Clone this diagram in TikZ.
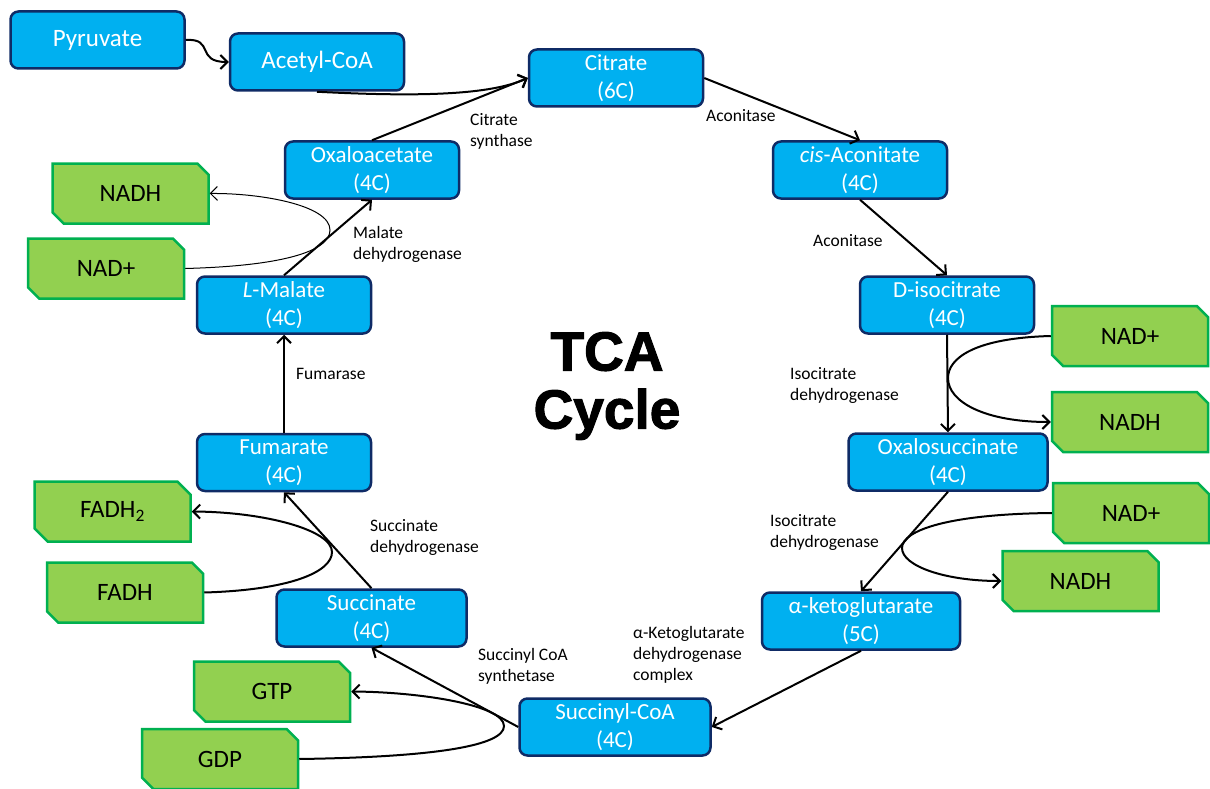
\documentclass[tikz,border=0pt]{standalone}
\usepackage{fontspec}
\setmainfont{Carlito}
\newfontfamily\tcafont[FakeBold=2]{Liberation Sans}
\usetikzlibrary{arrows.meta,shapes.misc}
\definecolor{bfill}{HTML}{00B0F0}
\definecolor{bdraw}{HTML}{0F2B66}
\definecolor{gfill}{HTML}{92D050}
\definecolor{gdraw}{HTML}{00B050}
\begin{document}
\begin{tikzpicture}[x=1pt,y=-1pt,
  bbox/.style={draw=bdraw, fill=bfill, line width=2.5pt, rounded corners=8pt, text=white,
    font=\fontsize{23}{28}\selectfont, align=center, inner sep=0pt,
    minimum width=174pt, minimum height=57pt},
  gbox/.style={chamfered rectangle, chamfered rectangle corners={north east, south west},
    chamfered rectangle xsep=10pt, draw=gdraw, fill=gfill, line width=2.5pt,
    font=\fontsize{25}{30}\selectfont, inner sep=0pt, minimum width=156pt, minimum height=60pt},
  enz/.style={font=\fontsize{17.5}{21}\selectfont, align=left, anchor=north west, inner sep=0pt},
  flow/.style={line width=2pt, -{Straight Barb[length=7pt,width=14pt]}},
  thinflow/.style={line width=1pt, -{Straight Barb[length=7pt,width=14pt]}}]
\useasboundingbox (0,0) rectangle (1210,789);

% blue metabolite boxes
\node[bbox, font=\fontsize{25}{30}\selectfont] (pyr) at (97.5,40) {Pyruvate};
\node[bbox, font=\fontsize{25}{30}\selectfont] (acet) at (317,62) {Acetyl-CoA};
\node[bbox] (cit) at (616,78) {Citrate\\(6C)};
\node[bbox] (cis) at (860,170) {\textit{cis}-Aconitate\\(4C)};
\node[bbox] (iso) at (947,305) {D-isocitrate\\(4C)};
\node[bbox, minimum width=199pt] (oxs) at (948,462) {Oxalosuccinate\\(4C)};
\node[bbox, minimum width=198pt] (akg) at (861,621) {α-ketoglutarate\\(5C)};
\node[bbox, minimum width=191pt] (scoa) at (615,727) {Succinyl-CoA\\(4C)};
\node[bbox, minimum width=190pt] (suc) at (371.5,618) {Succinate\\(4C)};
\node[bbox] (fum) at (284,462.5) {Fumarate\\(4C)};
\node[bbox] (mal) at (284,305) {\textit{L}-Malate\\(4C)};
\node[bbox] (oaa) at (372,170) {Oxaloacetate\\(4C)};

% green cofactor boxes
\node[gbox] (nadh1) at (130.5,193.5) {NADH};
\node[gbox] (nad1) at (106,268.5) {NAD+};
\node[gbox] (nad2) at (1130,336) {NAD+};
\node[gbox] (nadh2) at (1130,422) {NADH};
\node[gbox] (nad3) at (1131,513) {NAD+};
\node[gbox] (nadh3) at (1080.5,581) {NADH};
\node[gbox] (fadh2) at (112.5,511.5) {FADH\textsubscript{2}};
\node[gbox] (fadh) at (125,592.5) {FADH};
\node[gbox] (gtp) at (272,691.5) {GTP};
\node[gbox] (gdp) at (220,759) {GDP};

% title
\node[font=\tcafont\bfseries\fontsize{55}{58}\selectfont, align=center, inner sep=0pt] (tca) at (607,386) {TCA\\Cycle};

% enzyme labels
\node[enz] (e1) at (470,113) {Citrate\\synthase};
\node[enz] (e2) at (706,109) {Aconitase};
\node[enz] (e3) at (813,234) {Aconitase};
\node[enz] (e4) at (790,367) {Isocitrate\\dehydrogenase};
\node[enz] (e5) at (770,514) {Isocitrate\\dehydrogenase};
\node[enz] (e6) at (633,626) {α-Ketoglutarate\\dehydrogenase\\complex};
\node[enz] (e7) at (478,648) {Succinyl CoA\\synthetase};
\node[enz] (e8) at (370,519) {Succinate\\dehydrogenase};
\node[enz] (e9) at (296,368) {Fumarase};
\node[enz] (e10) at (353,226) {Malate\\dehydrogenase};

% main cycle
\draw[flow] (pyr.east) .. controls (215,38) and (195,62) .. (acet.west);
\draw[flow] (acet.south) .. controls (420,97) and (490,95) .. (cit.west);
\draw[flow] (oaa.north) -- (cit.west);
\draw[flow] (cit.east) -- (cis.north);
\draw[flow] (cis.south) -- (iso.north);
\draw[flow] (iso.south) -- (oxs.north);
\draw[flow] (oxs.south) -- (akg.north);
\draw[flow] (akg.south) -- (scoa.east);
\draw[flow] (scoa.west) -- (suc.south);
\draw[flow] (suc.north) -- (fum.south);
\draw[flow] (fum.north) -- (mal.south);
\draw[flow] (mal.north) -- (oaa.south);

% cofactor loops
\coordinate (m1) at (330,230);
\coordinate (m2) at (948,378);
\coordinate (m3) at (902,548);
\coordinate (m4) at (332,552);
\coordinate (m5) at (504,726);
\draw[thinflow] (nad1.east) .. controls (280,266) and (330,252) .. (m1) .. controls (330,205) and (260,193) .. (nadh1.east);
\draw[flow] (nad2.west) .. controls (975,338) and (948,358) .. (m2) .. controls (948,402) and (985,422) .. (nadh2.west);
\draw[flow] (nad3.west) .. controls (950,514) and (902,530) .. (m3) .. controls (902,566) and (945,581) .. (nadh3.west);
\draw[flow] (fadh.east) .. controls (290,590) and (332,572) .. (m4) .. controls (332,530) and (265,512) .. (fadh2.east);
\draw[flow] (gdp.east) .. controls (440,757) and (504,745) .. (m5) .. controls (504,705) and (420,692) .. (gtp.east);
\end{tikzpicture}
\end{document}
